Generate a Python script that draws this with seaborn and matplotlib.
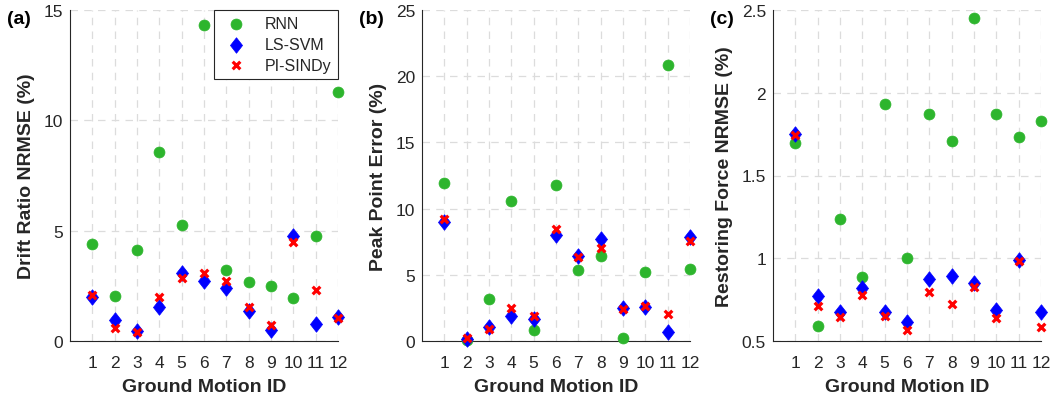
import matplotlib
matplotlib.use("Agg")
import matplotlib.pyplot as plt
import seaborn as sns
import pandas as pd
from matplotlib.ticker import FuncFormatter

# ---------------- data ----------------
motion_ids = list(range(1, 13))
models = ["RNN", "LS-SVM", "PI-SINDy"]

drift_rnn = [4.38, 2.02, 4.13, 8.57, 5.27, 14.34, 3.23, 2.69, 2.50, 1.93, 4.75, 11.27]
drift_lssvm = [1.99, 0.97, 0.45, 1.52, 3.09, 2.70, 2.41, 1.34, 0.51, 4.78, 0.75, 1.09]
drift_pisindy = [2.10, 0.59, 0.41, 1.98, 2.85, 3.08, 2.73, 1.54, 0.71, 4.50, 2.31, 1.04]

peak_rnn = [11.92, 0.05, 3.19, 10.56, 0.83, 11.80, 5.33, 6.44, 0.25, 5.23, 20.85, 5.43]
peak_lssvm = [8.98, 0.18, 1.08, 1.86, 1.63, 7.97, 6.41, 7.72, 2.49, 2.59, 0.70, 7.87]
peak_pisindy = [9.23, 0.25, 0.91, 2.49, 1.91, 8.43, 6.36, 7.02, 2.44, 2.67, 2.04, 7.55]

force_rnn = [1.695, 0.589, 1.240, 0.884, 1.933, 0.999, 1.870, 1.711, 2.454, 1.870, 1.733, 1.832]
force_lssvm = [1.749, 0.770, 0.677, 0.820, 0.677, 0.615, 0.876, 0.892, 0.850, 0.685, 0.991, 0.673]
force_pisindy = [1.743, 0.711, 0.643, 0.778, 0.653, 0.564, 0.794, 0.723, 0.824, 0.641, 0.985, 0.585]

panel_letters = ["(a)", "(b)", "(c)"]
y_labels = ["Drift Ratio NRMSE (%)", "Peak Point Error (%)", "Restoring Force NRMSE (%)"]
y_ticks = [[0, 5, 10, 15], [0, 5, 10, 15, 20, 25], [0.5, 1, 1.5, 2, 2.5]]
y_limits = [(0, 15), (0, 25), (0.5, 2.5)]
x_label = "Ground Motion ID"

panels = [
    {"RNN": drift_rnn, "LS-SVM": drift_lssvm, "PI-SINDy": drift_pisindy},
    {"RNN": peak_rnn, "LS-SVM": peak_lssvm, "PI-SINDy": peak_pisindy},
    {"RNN": force_rnn, "LS-SVM": force_lssvm, "PI-SINDy": force_pisindy},
]

# ---------------- style ----------------
sns.set_theme(style="white")
plt.rcParams["font.family"] = ["Liberation Sans", "DejaVu Sans"]
plt.rcParams["axes.unicode_minus"] = False

colors = {"RNN": "#2DB52D", "LS-SVM": "#0000FF", "PI-SINDy": "#FF0000"}
diamond = [(0, 1), (0.78, 0), (0, -1), (-0.78, 0), (0, 1)]
markers = {"RNN": "o", "LS-SVM": diamond, "PI-SINDy": "x"}
sizes = {"RNN": 62, "LS-SVM": 125, "PI-SINDy": 30}
txt_color = "#262626"

fig = plt.figure(figsize=(10.5, 4.02), dpi=100)
W, H = 1050.0, 402.0
lefts = [70, 422, 773]
ax_w = 268
ax_bottom = 60
ax_h = 331

for i, data in enumerate(panels):
    ax = fig.add_axes([lefts[i] / W, ax_bottom / H, ax_w / W, ax_h / H])
    for m in models:
        df = pd.DataFrame({"id": motion_ids, "val": data[m]})
        if m == "PI-SINDy":
            sns.scatterplot(data=df, x="id", y="val", ax=ax, color=colors[m],
                            marker="x", s=sizes[m], linewidth=2.3, label=m,
                            clip_on=False, zorder=4)
        else:
            sns.scatterplot(data=df, x="id", y="val", ax=ax, color=colors[m],
                            marker=markers[m], s=sizes[m], edgecolor=colors[m],
                            linewidth=0.5, label=m, clip_on=False, zorder=3)
    ax.set_xlim(0, 12)
    ax.set_ylim(*y_limits[i])
    ax.set_xticks(motion_ids)
    ax.set_yticks(y_ticks[i])
    ax.yaxis.set_major_formatter(FuncFormatter(lambda v, p: "%g" % v))
    ax.grid(True, linestyle=(0, (6, 5)), color="#dcdcdc", linewidth=0.9)
    ax.set_axisbelow(True)
    for s in ["top", "right"]:
        ax.spines[s].set_visible(False)
    for s in ["left", "bottom"]:
        ax.spines[s].set_color(txt_color)
        ax.spines[s].set_linewidth(0.8)
    ax.tick_params(direction="in", length=4, width=0.8, colors=txt_color,
                   labelsize=12.5)
    ax.tick_params(axis="x", pad=10)
    ax.tick_params(axis="y", pad=5)
    ax.set_xlabel(x_label, fontsize=14, fontweight="bold", color=txt_color, labelpad=6)
    ax.set_ylabel(y_labels[i], fontsize=14, fontweight="bold", color=txt_color, labelpad=6)
    if i == 0:
        leg = ax.legend(loc="upper right", bbox_to_anchor=(1.0, 1.0), borderaxespad=0,
                        frameon=True, fancybox=False, fontsize=11.5,
                        handletextpad=0.8, labelspacing=0.35, borderpad=0.4)
        leg.get_frame().set_edgecolor(txt_color)
        leg.get_frame().set_linewidth(0.8)
        leg.get_frame().set_alpha(1)
    else:
        if ax.get_legend() is not None:
            ax.get_legend().remove()
    fig.text((lefts[i] - 63) / W, 1 - 19 / H, panel_letters[i], fontsize=14,
             fontweight="bold", color="#000000", ha="left", va="center")

fig.savefig("out.png", dpi=100)
